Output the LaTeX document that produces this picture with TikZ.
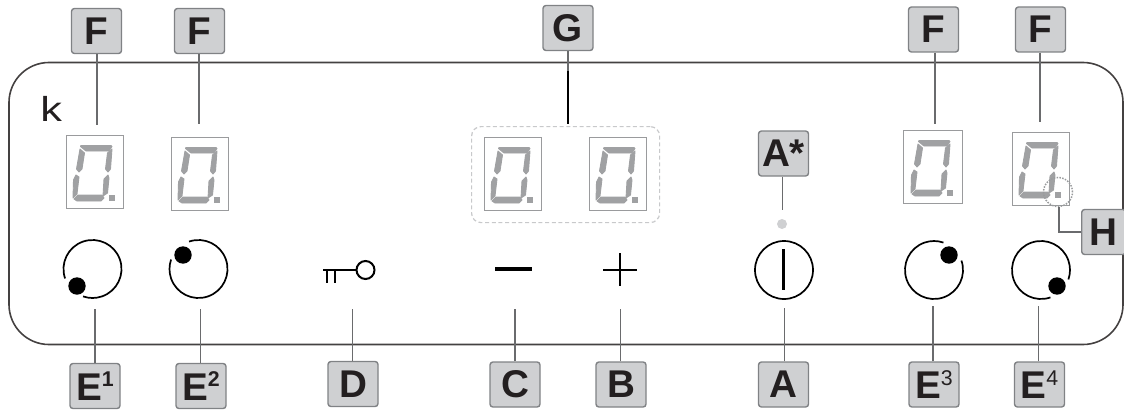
\documentclass[tikz,border=0pt]{standalone}
\usepackage{fontspec}
\setmainfont{Liberation Sans}
\definecolor{boxfill}{HTML}{CFD0D2}
\definecolor{boxline}{HTML}{808285}
\definecolor{ink}{HTML}{231F20}
\definecolor{seg}{HTML}{A0A1A3}
\definecolor{displine}{HTML}{9A9B9D}
\definecolor{dashline}{HTML}{C8C9CB}
\definecolor{leader}{HTML}{6A6B6D}
\tikzset{
  labelbox/.style={draw=boxline,fill=boxfill,line width=1.4*0.75pt,rounded corners=2.2pt,inner sep=0pt,
    minimum width=50*0.75pt,minimum height=45*0.75pt,text=ink,font=\fontsize{29}{29}\selectfont\bfseries},
  leaderline/.style={draw=leader,line width=1.3*0.75pt},
  panel/.style={draw=ink!85,line width=1.6*0.75pt,rounded corners=30pt},
  dispbox/.style={draw=displine,line width=1.2*0.75pt,inner sep=0pt,minimum width=57*0.75pt,minimum height=73*0.75pt},
  dial/.style={draw=black,line width=1.7*0.75pt},
  symb/.style={draw=black,line width=2*0.75pt},
  segm/.style={fill=seg,draw=seg,line width=0.9*0.75pt,line join=round}
}
% display at top-left corner (#1,#2) in pixels
\newcommand{\digitzero}[2]{%
 \begin{scope}[shift={(#1,#2)}]
  \path[segm] (15,10.5) -- (45,10.5) -- (46,11.5) -- (43,16) -- (20,16) -- (14.5,11.5) -- cycle;
  \path[segm] (14,14) -- (18.5,18) -- (16,34) -- (13,37) -- (10.5,34) -- cycle;
  \path[segm] (46,14) -- (44.5,34) -- (42,37) -- (39.5,34) -- (41.5,18) -- cycle;
  \path[segm] (10,40) -- (13,42) -- (11,59) -- (7,63) -- (7.5,45) -- cycle;
  \path[segm] (42,40) -- (43,43) -- (41.5,58) -- (37,61) -- (38,44) -- cycle;
  \path[segm] (12,60) -- (36,60) -- (38,63) -- (35,66) -- (11,66) -- (8,64) -- cycle;
  \fill[seg] (43,60) rectangle (49,65.5);
 \end{scope}}
\newcommand{\dialknob}[5]{% centre x,y ; dot x,y ; gap-centre angle (y axis points down)
 \draw[dial] (#1,#2) ++(#5+26:29) arc[start angle=#5+26,delta angle=308,radius=29];
 \fill[black] (#3,#4) circle (8.7);
}
\begin{document}
\begin{tikzpicture}[x=0.75pt,y=-0.75pt]
\useasboundingbox (0,0) rectangle (1124,410);
\draw[panel] (9,62.5) rectangle (1123,344.5);
\node[text=ink,font=\fontsize{26}{26}\selectfont,inner sep=0pt,anchor=base west] (logo) at (40,122) {\scalebox{1.25}[1]{k}};

% displays
\node[dispbox,anchor=north west] (d1) at (66,135) {};
\node[dispbox,anchor=north west] (d2) at (171,137) {};
\node[dispbox,anchor=north west] (d3) at (484,137) {};
\node[dispbox,anchor=north west] (d4) at (589,137) {};
\node[dispbox,anchor=north west,minimum width=59*0.75pt] (d5) at (903,130) {};
\node[dispbox,anchor=north west] (d6) at (1012,132) {};
\digitzero{66}{135}\digitzero{171}{137}\digitzero{484}{137}\digitzero{589}{137}\digitzero{904}{130}\digitzero{1012}{132}
\node[draw=dashline,densely dashed,line width=1.2*0.75pt,rounded corners=7pt,inner sep=0pt,
  minimum width=188*0.75pt,minimum height=96*0.75pt,anchor=north west] (gbox) at (471,126) {};
\node[draw=boxline!80,densely dotted,line width=1.5*0.75pt,circle,inner sep=0pt,minimum size=29*0.75pt] (hring) at (1058,192) {};

% labels
\node[labelbox] (f1) at (96.5,31) {F};
\node[labelbox] (f2) at (199.5,31) {F};
\node[labelbox] (g) at (568,28) {G};
\node[labelbox] (f3) at (933.5,29.5) {F};
\node[labelbox] (f4) at (1040.5,29.5) {F};
\node[labelbox] (astar) at (783.5,153.5) {A\raisebox{0pt}{*}};
\node[labelbox,minimum width=44*0.75pt,anchor=west] (h) at (1081,232) {H};
\node[labelbox] (e1) at (95,386) {E\raisebox{10pt}{\fontsize{16}{16}\selectfont\bfseries 1}};
\node[labelbox] (e2) at (201,386) {E\raisebox{10pt}{\fontsize{16}{16}\selectfont\bfseries 2}};
\node[labelbox] (dd) at (353,384) {D};
\node[labelbox] (c) at (515,384.5) {C};
\node[labelbox] (b) at (621,384.5) {B};
\node[labelbox] (a) at (783.5,384.5) {A};
\node[labelbox] (e3) at (934,384.5) {E\raisebox{10pt}{\fontsize{16}{16}\selectfont\mdseries 3}};
\node[labelbox] (e4) at (1039.5,384.5) {E\raisebox{10pt}{\fontsize{16}{16}\selectfont\mdseries 4}};

% free ends
\coordinate (f1e) at (97,125);
\coordinate (f2e) at (199,124);
\coordinate (ge) at (568,124);
\coordinate (f3e) at (935,124);
\coordinate (f4e) at (1040,122);
\coordinate (ase) at (782.5,210);
\coordinate (e1e) at (95,309);
\coordinate (e2e) at (200.5,309);
\coordinate (dde) at (352.5,309);
\coordinate (ce) at (515,309);
\coordinate (be) at (620.5,309);
\coordinate (ae) at (784.5,308);
\coordinate (e3e) at (933,306);
\coordinate (e4e) at (1038.5,306);
\coordinate (hc) at (1059,232);

% connectors
\draw[leaderline] (f1.south -| f1e) -- (f1e);
\draw[leaderline] (f2.south -| f2e) -- (f2e);
\draw[leaderline] (g.south) -- (ge);
\draw[draw=black,line width=1.6*0.75pt] (568,71) -- (ge);
\draw[leaderline] (f3.south -| f3e) -- (f3e);
\draw[leaderline] (f4.south -| f4e) -- (f4e);
\draw[leaderline] (astar.south -| ase) -- (ase);
\draw[leaderline] (e1.north -| e1e) -- (e1e);
\draw[leaderline] (e2.north -| e2e) -- (e2e);
\draw[leaderline] (dd.north -| dde) -- (dde);
\draw[leaderline] (c.north -| ce) -- (ce);
\draw[leaderline] (b.north -| be) -- (be);
\draw[leaderline] (a.north -| ae) -- (ae);
\draw[leaderline] (e3.north -| e3e) -- (e3e);
\draw[leaderline] (e4.north -| e4e) -- (e4e);
\draw[leaderline] (h.west) -- (hc) -- (hring.south -| hc);

% dials
\dialknob{92.5}{269}{77}{286}{135}
\dialknob{198.5}{269}{183}{255}{225}
\dialknob{934}{270}{949}{255}{315}
\dialknob{1041}{270}{1057}{286}{45}

% power
\node[draw=black,line width=1.7*0.75pt,circle,inner sep=0pt,minimum size=58*0.75pt] (pwr) at (784,270) {};
\draw[draw=black,line width=2.6*0.75pt] (783.5,249) -- (783.5,290);
\node[fill=boxfill,circle,inner sep=0pt,minimum size=10*0.75pt] (led) at (782,224) {};

% key
\node[symb,circle,inner sep=0pt,minimum size=18*0.75pt] (keyring) at (365.5,270) {};
\draw[symb] (323,270) -- (keyring.west);
\draw[symb] (327,270) -- (327,283);
\draw[symb] (335,270) -- (335,283);

% minus, plus
\draw[draw=black,line width=3.2*0.75pt] (495,269) -- (532,269);
\draw[symb] (603,270) -- (637,270);
\draw[symb] (620,253) -- (620,286);
\end{tikzpicture}
\end{document}
